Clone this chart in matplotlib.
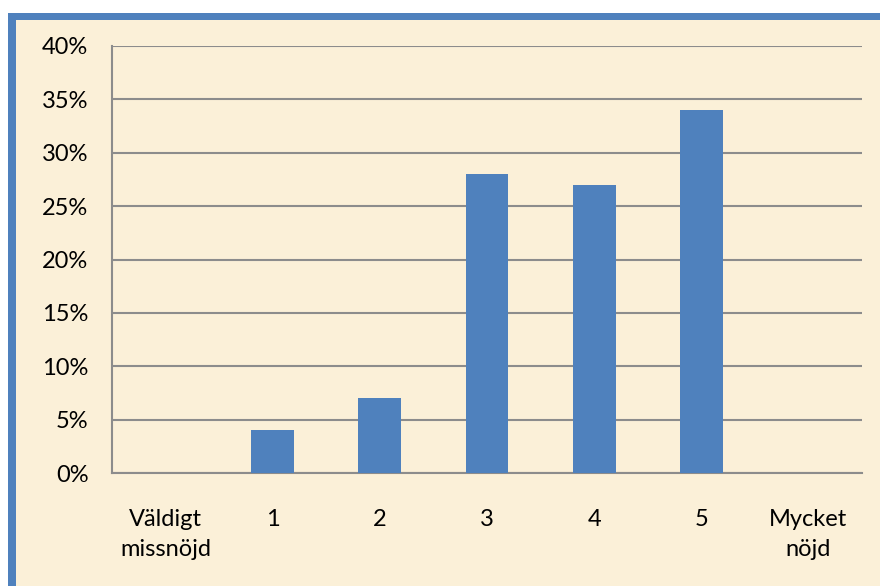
import matplotlib
matplotlib.use("Agg")
import matplotlib.pyplot as plt
from matplotlib.patches import Rectangle
from matplotlib.ticker import FuncFormatter, MultipleLocator

categories = ["Väldigt\nmissnöjd", "1", "2", "3", "4", "5", "Mycket\nnöjd"]
values = [0, 4, 7, 28, 27, 34, 0]

W, H = 880, 586
fig = plt.figure(figsize=(W / 100, H / 100), dpi=100)
fig.patch.set_facecolor("white")
plt.rcParams['font.family'] = ['Lato', 'DejaVu Sans']

# frame: blue border + cream panel
fig.add_artist(Rectangle((8 / W, 0), 1, 1 - 13 / H, transform=fig.transFigure,
                         facecolor="#4F81BD", edgecolor="none", zorder=0))
fig.add_artist(Rectangle((16 / W, 0), 1, 1 - 20 / H, transform=fig.transFigure,
                         facecolor="#FBF0D8", edgecolor="none", zorder=0))

ax = fig.add_axes([112 / W, 1 - 473 / H, (862 - 112) / W, (473 - 46) / H])
ax.set_facecolor("none")
x = range(len(categories))
ax.bar(x, values, width=0.4, color="#4F81BD", zorder=3)
ax.set_xlim(-0.5, len(categories) - 0.5)
ax.set_ylim(0, 40)
ax.yaxis.set_major_locator(MultipleLocator(5))
ax.yaxis.set_major_formatter(FuncFormatter(lambda v, p: f"{int(v)}%"))
ax.grid(axis="y", color="#8C8C8C", linewidth=1.5, zorder=1)
ax.set_xticks(list(x))
ax.set_xticklabels(categories, linespacing=1.55)
for s in ["top", "right"]:
    ax.spines[s].set_visible(False)
for s in ["left", "bottom"]:
    ax.spines[s].set_color("#8C8C8C")
    ax.spines[s].set_linewidth(1.5)
ax.tick_params(axis="both", length=0, labelsize=17, colors="black")
ax.tick_params(axis="y", pad=17)
ax.tick_params(axis="x", pad=26)

fig.savefig("out.png", dpi=100, facecolor=fig.get_facecolor())
